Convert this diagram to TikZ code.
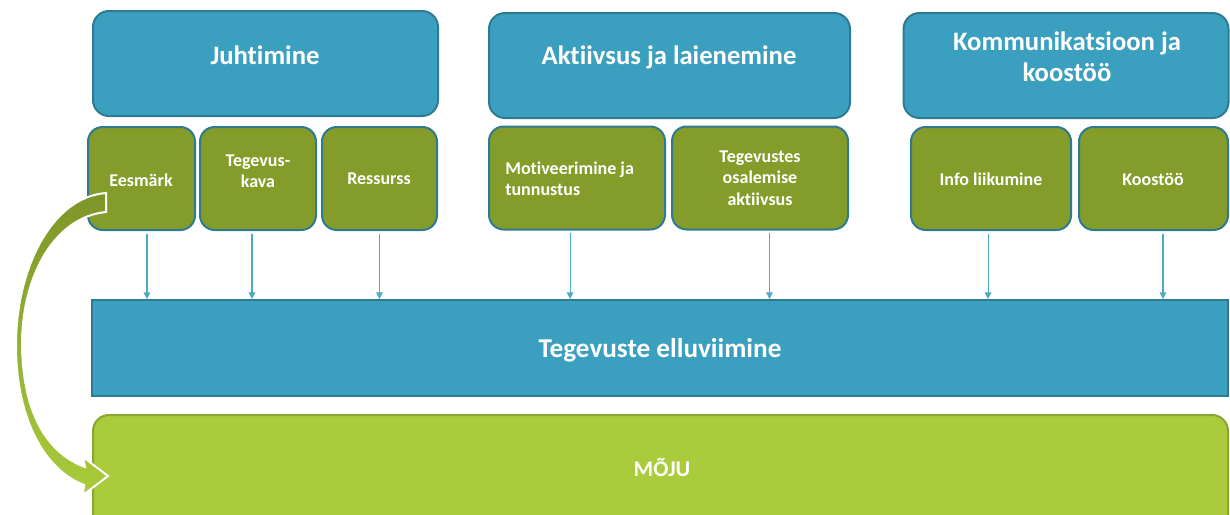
\documentclass[tikz,border=0pt]{standalone}
\usepackage{fontspec}
\setmainfont{Carlito}[RawFeature={-liga}]
\usetikzlibrary{arrows.meta,calc}
\definecolor{bluefill}{HTML}{3BA0BF}
\definecolor{blueline}{HTML}{2E7A91}
\definecolor{olive}{HTML}{849D2A}
\definecolor{lime}{HTML}{AACB3B}
\definecolor{limeline}{HTML}{8AA530}
\definecolor{arrowblue}{HTML}{4AAAC8}
\begin{document}
\begin{tikzpicture}[x=0.75pt,y=-0.75pt,
  topbox/.style={draw=blueline, fill=bluefill, line width=1.5pt, rounded corners=12pt, inner sep=0pt},
  subbox/.style={draw=blueline, fill=olive, line width=1.5pt, rounded corners=11pt, inner sep=0pt, minimum height=77.25pt},
  barbox/.style={draw=blueline, fill=bluefill, line width=1.5pt, inner sep=0pt},
  impbox/.style={draw=limeline, fill=lime, line width=1.5pt, rounded corners=12pt, inner sep=0pt},
  bigtext/.style={text=white, font=\fontsize{20}{23}\selectfont\bfseries, align=center, inner sep=0pt},
  smalltext/.style={text=white, font=\fontsize{13.5}{16}\selectfont\bfseries, align=center, inner sep=0pt},
  midtext/.style={text=white, font=\fontsize{16.8}{19}\selectfont\bfseries, align=center, inner sep=0pt},
  conn/.style={draw=arrowblue, line width=0.8pt, shorten <=2pt, -{Triangle[length=5pt,width=5pt]}},
]
\useasboundingbox (0,0) rectangle (1230,514);

% top category boxes
\node[topbox, minimum width=258.75pt, minimum height=78.75pt] (j) at (265.5,63.5) {};
\node[topbox, minimum width=270.75pt, minimum height=78.75pt] (a) at (669.5,65.5) {};
\node[topbox, minimum width=243.75pt, minimum height=78.75pt] (k) at (1066,65.5) {};
\node[bigtext] (jt) at (265,55) {Juhtimine};
\node[bigtext] (at) at (669,57) {Aktiivsus ja laienemine};
\node[bigtext, font=\fontsize{20}{23.5}\selectfont\bfseries] (kt) at (1067,57) {Kommunikatsioon ja\\koostöö};

% sub boxes
\node[subbox, minimum width=80.25pt] (e) at (141.5,178.5) {};
\node[subbox, minimum width=87pt] (t) at (258,178.5) {};
\node[subbox, minimum width=86.25pt] (r) at (379.5,178.5) {};
\node[subbox, minimum width=132pt] (m) at (577,178) {};
\node[subbox, minimum width=132pt] (g) at (760,178) {};
\node[subbox, minimum width=120pt] (i) at (991,178.5) {};
\node[subbox, minimum width=111.75pt] (o) at (1153.5,178.5) {};

\node[smalltext] (et) at (141,180) {Eesmärk};
\node[smalltext] (tt) at (258,171) {Tegevus-\\kava};
\node[smalltext] (rt) at (379,179) {Ressurss};
\node[smalltext, align=left, anchor=west] (mt) at (505,179) {Motiveerimine ja\\tunnustus};
\node[smalltext] (gt) at (760,178) {Tegevustes\\osalemise\\aktiivsus};
\node[smalltext] (it) at (991,179) {Info liikumine};
\node[smalltext] (ot) at (1153,179) {Koostöö};

% implementation and impact
\node[barbox, minimum width=852pt, minimum height=72pt] (el) at (660,348) {};
\node[bigtext, font=\fontsize{20.4}{23}\selectfont\bfseries] (elt) at (660,350) {Tegevuste elluviimine};
\node[impbox, minimum width=851.25pt, minimum height=93.75pt] (mo) at (660.5,477.5) {};
\node[midtext] (mot) at (662,467) {MÕJU};

% connectors
\coordinate (e1) at ([xshift=4.1pt]e.south);
\coordinate (t1) at ([xshift=-4.5pt]t.south);
\coordinate (r1) at ([xshift=0pt]r.south);
\coordinate (m1) at ([xshift=-5.2pt]m.south);
\coordinate (g1) at ([xshift=7.1pt]g.south);
\coordinate (i1) at ([xshift=-2.2pt]i.south);
\coordinate (o1) at ([xshift=7.1pt]o.south);
\foreach \c in {e1,t1,r1,m1,g1,i1,o1}
  \draw[conn] (\c) -- (\c |- el.north);

% curved arrow from Eesmärk to MÕJU
\shadedraw[draw=white, line width=1.5pt, line join=miter, top color=olive!95!black, bottom color=lime]
  (106,193) .. controls (52,197) and (16,268) .. (16,345)
  .. controls (16,420) and (45,470) .. (84,485)
  -- (83,495) -- (108,476) -- (83,457) -- (85,467)
  .. controls (52,455) and (23,420) .. (22,345)
  .. controls (22,275) and (55,217) .. (106,212) -- cycle;
\end{tikzpicture}
\end{document}
